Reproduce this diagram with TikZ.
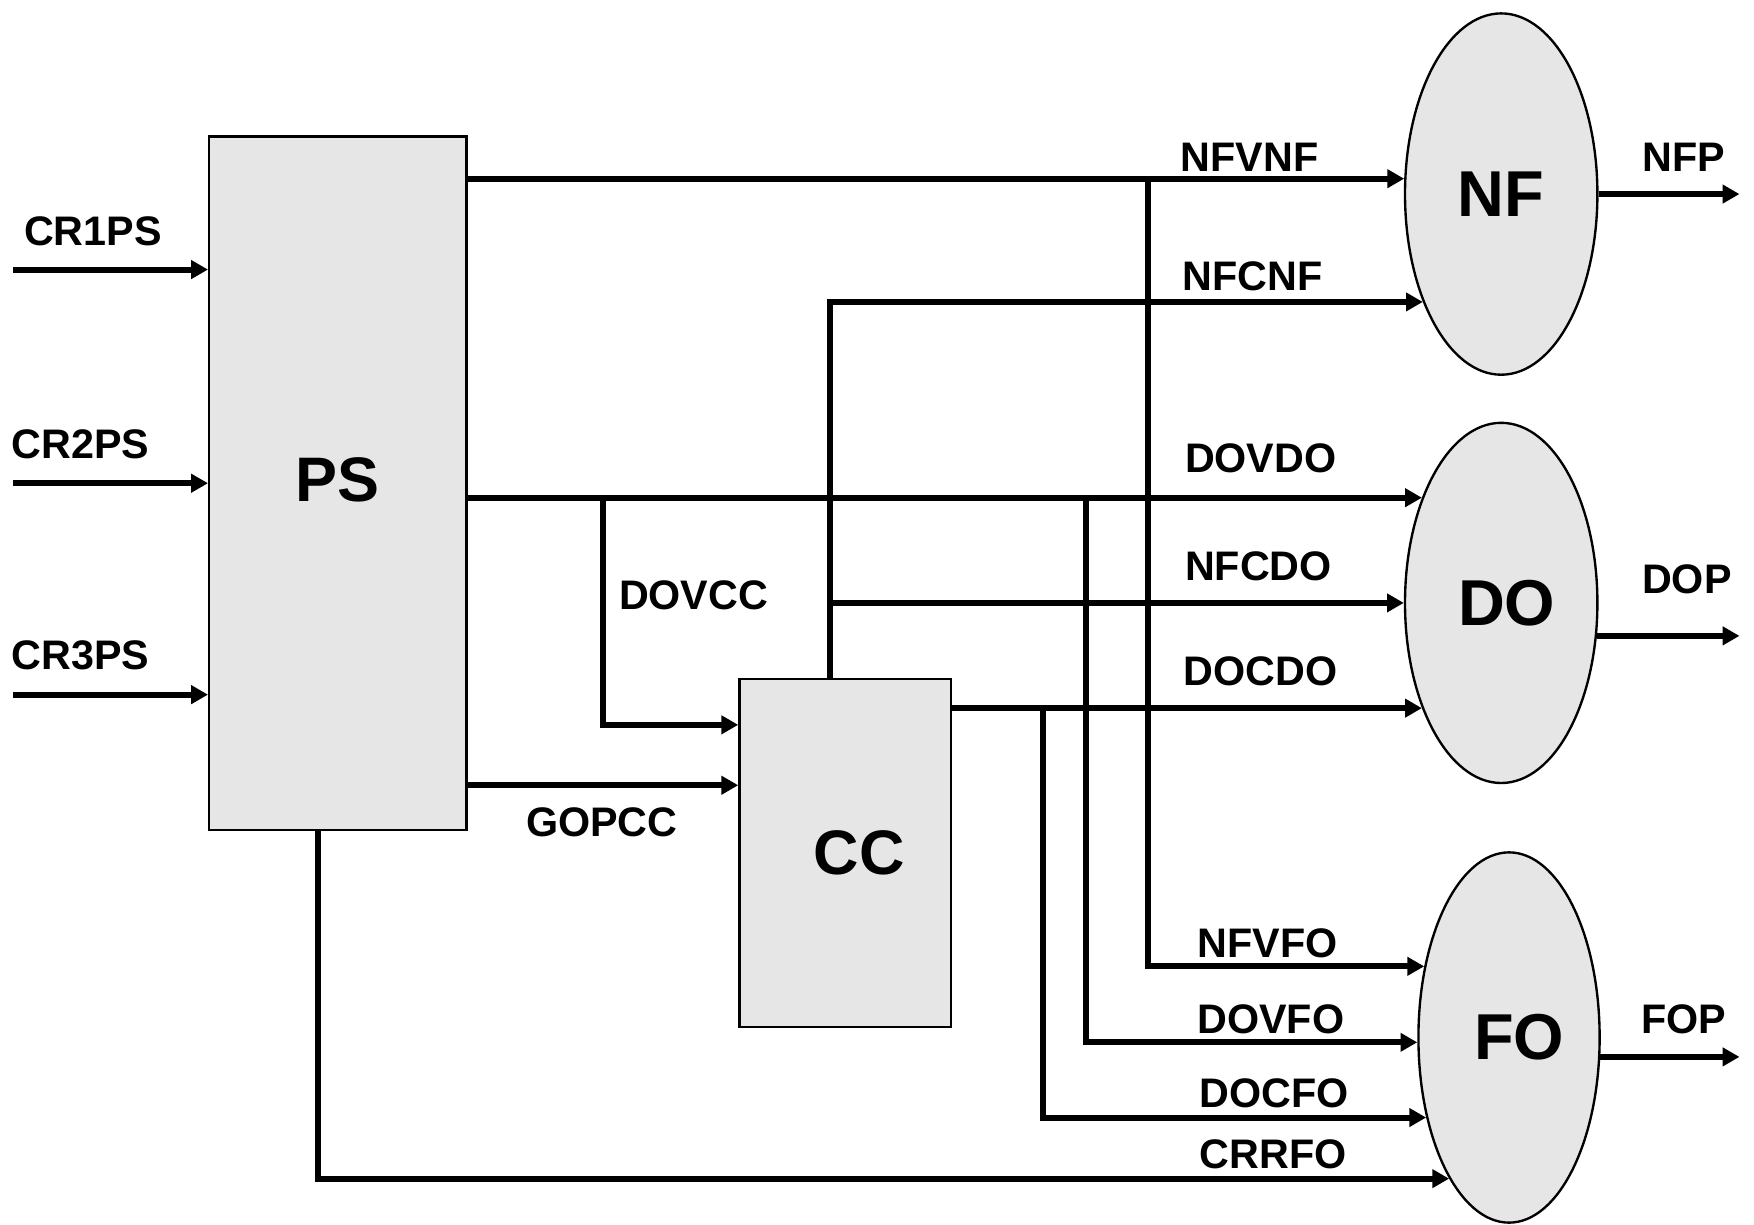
\documentclass[tikz,border=0pt]{standalone}
\usepackage{fontspec}
\setmainfont{Liberation Sans}
\usetikzlibrary{arrows.meta,shapes.geometric}
\definecolor{boxgray}{HTML}{E6E6E6}
\tikzset{
  block/.style={draw,line width=0.6pt,fill=boxgray,inner sep=0pt,
    font=\bfseries\fontsize{16}{18}\selectfont},
  unit/.style={ellipse,draw,line width=0.6pt,fill=boxgray,inner sep=0pt,
    font=\bfseries\fontsize{16.5}{18}\selectfont},
  lbl/.style={font=\bfseries\fontsize{10.5}{12}\selectfont,inner sep=0pt},
  flow/.style={line width=1.5pt,-{Triangle[length=1.5mm,width=1.6mm]}},
  wire/.style={line width=1.5pt}
}
\begin{document}
\begin{tikzpicture}
  \useasboundingbox (0,0) rectangle (15.68,10.95);
  % blocks
  \node[block,minimum width=2.30cm,minimum height=6.20cm] (PS) at (3.02,6.63) {\raisebox{0.07cm}{PS}};
  \node[block,minimum width=1.89cm,minimum height=3.11cm] (CC) at (7.555,3.325) {\hspace{0.25cm}CC};
  \node[unit,minimum width=1.72cm,minimum height=3.23cm] (NF) at (13.42,9.215) {\raisebox{-0.05cm}{NF}};
  \node[unit,minimum width=1.72cm,minimum height=3.22cm] (DO) at (13.42,5.56) {\hspace{0.1cm}\raisebox{-0.06cm}{DO}};
  \node[unit,minimum width=1.62cm,minimum height=3.31cm] (FO) at (13.49,1.675) {\hspace{0.18cm}\raisebox{-0.09cm}{FO}};
  % free ends
  \coordinate (cr1) at (0.12,8.54);
  \coordinate (cr2) at (0.12,6.63);
  \coordinate (cr3) at (0.12,4.74);
  \coordinate (nfp) at (15.55,0 |- NF.east);
  \coordinate (dop) at (15.55,0 |- DO.341);
  \coordinate (fop) at (15.55,0 |- FO.348);
  % labels
  \node[lbl] (l-cr1) at (0.83,8.88) {CR1PS};
  \node[lbl] (l-cr2) at (0.72,6.98) {CR2PS};
  \node[lbl] (l-cr3) at (0.72,5.09) {CR3PS};
  \node[lbl] (l-nfvnf) at (11.17,9.54) {NFVNF};
  \node[lbl] (l-nfcnf) at (11.20,8.48) {NFCNF};
  \node[lbl] (l-dovdo) at (11.27,6.85) {DOVDO};
  \node[lbl] (l-nfcdo) at (11.25,5.89) {NFCDO};
  \node[lbl] (l-docdo) at (11.27,4.95) {DOCDO};
  \node[lbl] (l-dovcc) at (6.20,5.63) {DOVCC};
  \node[lbl] (l-gopcc) at (5.38,3.60) {GOPCC};
  \node[lbl] (l-nfvfo) at (11.33,2.52) {NFVFO};
  \node[lbl] (l-dovfo) at (11.36,1.84) {DOVFO};
  \node[lbl] (l-docfo) at (11.39,1.18) {DOCFO};
  \node[lbl] (l-crrfo) at (11.38,0.63) {CRRFO};
  \node[lbl] (l-nfp) at (15.05,9.54) {NFP};
  \node[lbl] (l-dop) at (15.08,5.77) {DOP};
  \node[lbl] (l-fop) at (15.05,1.84) {FOP};
  % inputs
  \draw[flow] (cr1) -- (cr1 -| PS.west);
  \draw[flow] (cr2) -- (cr2 -| PS.west);
  \draw[flow] (cr3) -- (cr3 -| PS.west);
  % from PS
  \draw[flow] (PS.east |- NF.171) -- (NF.171);
  \draw[flow] (PS.east |- DO.127) -- (DO.127);
  \draw[flow] (PS.east |- 0,3.93) -- (CC.west |- 0,3.93);
  \draw[flow] (5.39,0 |- DO.127) |- (CC.west |- 0,4.47);
  \draw[flow] (PS.south -| 2.84,0) |- (FO.247);
  % from CC
  \draw[flow] (CC.north -| 7.42,0) |- (NF.234);
  \draw[flow] (7.42,0 |- DO.west) -- (DO.west);
  \draw[flow] (CC.east |- DO.233) -- (DO.233);
  % to FO
  \draw[flow] (10.26,0 |- NF.171) |- (FO.140);
  \draw[flow] (9.71,0 |- DO.127) |- (FO.183);
  \draw[flow] (9.32,0 |- DO.233) |- (FO.224);
  % outputs
  \draw[flow] (NF.east) -- (nfp);
  \draw[flow] (DO.341) -- (dop);
  \draw[flow] (FO.348) -- (fop);
\end{tikzpicture}
\end{document}
